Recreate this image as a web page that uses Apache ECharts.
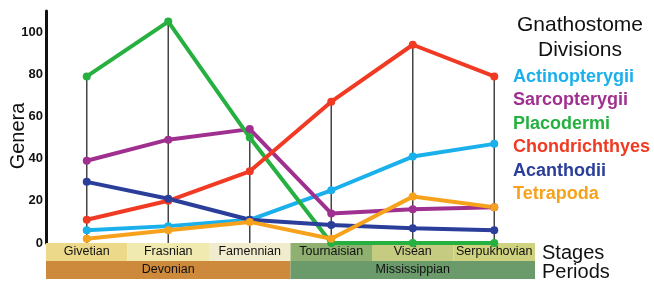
<!DOCTYPE html>
<html>
<head>
<meta charset="utf-8">
<script src="https://cdn.jsdelivr.net/npm/echarts@6/dist/echarts.min.js"></script>
<style>
html, body { margin: 0; padding: 0; background: #fff; }
#main { width: 654px; height: 285px; }
</style>
</head>
<body>
<div id="main"></div>
<script>
// stages and periods
var stages = ['Givetian', 'Frasnian', 'Famennian', 'Tournaisian', 'Viséan', 'Serpukhovian'];
var stageColors = ['#ecd98a', '#f1eab0', '#f2ecce', '#8fb070', '#c5cc82', '#cfd27e'];
var periods = ['Devonian', 'Mississippian'];
var periodColors = ['#cd8a3c', '#6b9a6b'];

// genera per division
var actinopterygii = [6, 8, 11, 25, 41, 47];
var sarcopterygii = [39, 49, 54, 14, 16, 17];
var placodermi = [79, 105, 50, 0, 0, 0];
var chondrichthyes = [11, 20, 34, 67, 94, 79];
var acanthodii = [29, 21, 11, 8.5, 7, 6];
var tetrapoda = [2, 6, 10, 2, 22, 17];

var yTicks = [0, 20, 40, 60, 80, 100];

var groups = [
    { name: 'Actinopterygii', data: actinopterygii, color: '#1ab0ec' },
    { name: 'Sarcopterygii', data: sarcopterygii, color: '#a0308f' },
    { name: 'Placodermi', data: placodermi, color: '#25b040' },
    { name: 'Chondrichthyes', data: chondrichthyes, color: '#f03a23' },
    { name: 'Acanthodii', data: acanthodii, color: '#2a3e9a' },
    { name: 'Tetrapoda', data: tetrapoda, color: '#f7a21d' }
];

// drop line goes up to highest value of each stage
var dropLines = stages.map(function (s, i) {
    return Math.max.apply(null, groups.map(function (g) { return g.data[i]; }));
});

var sans = '"Liberation Sans", Arial, sans-serif';

var stageRich = {};
stages.forEach(function (s, i) {
    stageRich['s' + i] = {
        backgroundColor: stageColors[i],
        width: 81.5, height: 18, lineHeight: 18,
        align: 'center', color: '#111',
        fontFamily: sans, fontSize: 12.5
    };
});
var periodRich = {};
periods.forEach(function (p, i) {
    periodRich['p' + i] = {
        backgroundColor: periodColors[i],
        width: 244.5, height: 18, lineHeight: 18,
        align: 'center', color: '#111',
        fontFamily: sans, fontSize: 12.5
    };
});

var series = [{
    name: 'drop',
    type: 'bar',
    silent: true,
    barWidth: 1.5,
    itemStyle: { color: '#444' },
    data: dropLines,
    z: 1
}];
groups.forEach(function (g) {
    series.push({
        name: g.name,
        type: 'line',
        data: g.data,
        symbol: 'circle',
        symbolSize: 8,
        lineStyle: { width: 4, color: g.color },
        itemStyle: { color: g.color },
        z: 3
    });
});

var chart = echarts.init(document.getElementById('main'));
chart.setOption({
    animation: false,
    grid: { left: 46, right: 119, top: 11, bottom: 42, outerBoundsMode: 'none', containLabel: false },
    title: {
        text: 'Gnathostome\nDivisions',
        left: 575, top: 8,
        textAlign: 'center',
        textStyle: { fontFamily: sans, fontWeight: 'normal', fontSize: 21, lineHeight: 25, color: '#111' }
    },
    legend: {
        orient: 'vertical',
        left: 503, top: 63,
        itemWidth: 0, itemHeight: 0, itemGap: 5.5,
        selectedMode: false,
        data: groups.map(function (g) {
            return { name: g.name, icon: 'none', textStyle: { color: g.color } };
        }),
        textStyle: { fontFamily: sans, fontWeight: 'bold', fontSize: 18 }
    },
    graphic: [{
        type: 'text', left: 542, top: 243,
        style: { text: 'Stages\nPeriods', font: '20px ' + sans, lineHeight: 19, fill: '#111' }
    }],
    xAxis: [{
        type: 'category',
        data: stages,
        axisLine: { show: false },
        axisTick: { show: false },
        axisLabel: {
            margin: 0, interval: 0,
            formatter: function (v, i) { return '{s' + i + '|' + v + '}'; },
            rich: stageRich
        }
    }, {
        type: 'category',
        data: periods,
        position: 'bottom',
        offset: 18,
        axisLine: { show: false },
        axisTick: { show: false },
        axisLabel: {
            margin: 0, interval: 0,
            formatter: function (v, i) { return '{p' + i + '|' + v + '}'; },
            rich: periodRich
        }
    }],
    yAxis: {
        type: 'value',
        min: yTicks[0], max: 110, interval: 20,
        name: 'Genera',
        nameLocation: 'middle',
        nameRotate: 90,
        nameGap: 18,
        nameMoveOverlap: false,
        nameTextStyle: { fontFamily: sans, fontSize: 20, color: '#111', padding: [0, 18, 0, 0] },
        axisLine: { show: true, lineStyle: { color: '#111', width: 3 } },
        axisTick: { show: false },
        splitLine: { show: false },
        axisLabel: {
            showMaxLabel: false,
            margin: 3,
            color: '#111',
            fontFamily: sans, fontWeight: 'bold', fontSize: 13
        }
    },
    series: series
});
</script>
</body>
</html>
